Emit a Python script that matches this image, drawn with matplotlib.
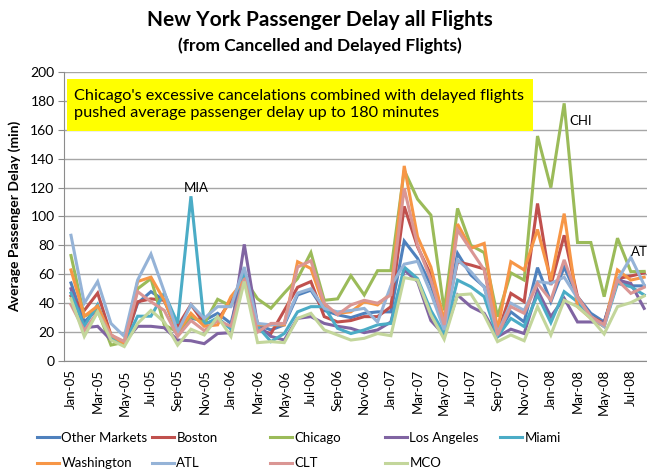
import matplotlib.pyplot as plt
import pandas as pd
from matplotlib.patches import Rectangle

plt.rcParams['font.family'] = ['Lato', 'DejaVu Sans']

# monthly categories Jan-05 .. Aug-08
months = list(pd.date_range('2005-01-01', periods=44, freq='MS').strftime('%b-%y'))

other_markets = [54, 27, 36, 17, 13, 40, 48, 42, 19, 29.5, 28, 33, 26, 62, 25, 21.5, 25, 45.7, 49, 35, 32, 30,
                 33, 34, 34, 83, 71, 52.6, 24, 74.5, 59.5, 51.4, 18.7, 34, 27, 64.6, 41, 65, 44.5, 33, 27, 57, 52, 52]
boston = [45, 35, 47, 18, 12, 41, 43, 42, 24, 39, 26, 28, 42, 58, 21.5, 19, 35, 51, 55, 30.7, 27, 28,
          30.7, 30.7, 37.6, 107, 79, 59.5, 26, 68.7, 66.4, 63.7, 19, 46.8, 41, 109, 52.6, 87, 44.5, 30.7, 26, 57, 58.8, 61]
chicago = [73, 31, 35, 11, 13, 50, 57, 25, 20, 31, 26, 42.7, 38, 57, 43, 36.5, 47, 57, 75, 42, 43, 59,
           45.7, 62.5, 62.5, 132, 112, 101, 35, 105.6, 80, 75, 30.7, 61, 56, 155.7, 120, 178.3, 82, 82, 44.5, 85, 61.8, 62]
los_angeles = [50, 23, 24, 14.5, 13, 24, 24, 23, 14.5, 14, 12, 19, 19.6, 80.7, 25, 17, 14.5, 29.5, 30.7, 26, 24, 22.6,
               19.6, 21.5, 27, 63, 55, 28, 18, 45.7, 37.6, 33, 16.8, 22, 19, 49, 30.7, 43.4, 27, 27, 26.5, 56, 53.7, 36.4]
miami = [47, 24, 39, 16, 12, 31, 31, 47, 26, 114, 25, 30, 22, 61, 24, 13.4, 19, 34, 37.6, 37.6, 22.6, 19,
         21.5, 25, 26, 65, 57, 35, 19, 56, 51.4, 44.5, 16.8, 29.5, 23.8, 45.7, 26.5, 48, 41, 29.5, 24, 53.7, 51.4, 45.7]
washington = [63, 31, 38, 18, 12, 55, 58, 42, 20, 33, 24, 25, 44.5, 56, 25, 25, 25, 68.7, 64, 37.6, 33, 34,
              41, 38.8, 47, 135, 86, 65, 28, 94.8, 78, 81.4, 21.5, 68.7, 63, 91, 56, 102, 37.6, 29.5, 23.8, 63, 56, 58]
atl = [87, 40, 55, 26, 17, 56, 74, 48, 20, 39, 29.5, 37.6, 37.6, 65, 26, 25, 26, 47, 50, 36.4, 34, 35,
       36.4, 27, 52, 67, 69, 47, 21.5, 70, 61.8, 51, 19, 40, 35, 55, 53.7, 58, 43.4, 31, 23.8, 56, 71.7, 52.6]
clt = [39, 21, 34, 18, 13.5, 48, 41, 35, 17, 28, 21, 28, 24, 57, 20, 26, 26, 65, 69.4, 40, 32, 38.8,
       42, 40, 45.7, 119.5, 80, 56, 25, 90.7, 76.8, 63, 18, 37.6, 33, 53.7, 42, 70, 44.5, 30.7, 25, 56, 46.8, 51]
mco = [43, 17, 34, 14.5, 10, 26, 35, 27, 11, 22, 18, 30.7, 17, 55, 12.7, 13.4, 12.7, 29.5, 33, 21.5, 18, 14.5,
       15.7, 19, 17.5, 57.7, 56, 32, 15, 45.7, 46.4, 31.8, 13.4, 18, 14, 37.6, 18, 42, 37.6, 29.5, 18.7, 37.6, 40.4, 45]

series = [
    ('Other Markets', other_markets, '#4F81BD'),
    ('Boston', boston, '#C0504D'),
    ('Chicago', chicago, '#9BBB59'),
    ('Los Angeles', los_angeles, '#8064A2'),
    ('Miami', miami, '#4BACC6'),
    ('Washington', washington, '#F79646'),
    ('ATL', atl, '#95B3D7'),
    ('CLT', clt, '#DA9694'),
    ('MCO', mco, '#C3D69B'),
]

fig = plt.figure(figsize=(6.47, 4.73), dpi=100)
# plot area runs a bit past the right edge (the original screenshot is cut there)
ax = fig.add_axes([0.0994, 0.2368, 0.9065, 0.611])

x = list(range(len(months)))
handles = []
for name, vals, col in series:
    h, = ax.plot(x, vals, color=col, lw=2.2, label=name, solid_joinstyle='miter')
    handles.append(h)

ax.set_xlim(-0.5, len(months) - 0.5)
ax.set_ylim(0, 200)
ax.set_yticks(range(0, 201, 20))
ax.set_xticks(x[::2])
ax.set_xticklabels(months[::2], rotation=90, fontsize=9.5)
ax.tick_params(axis='x', length=0, pad=6)
ax.tick_params(axis='y', labelsize=10, length=4, color='#8C8C8C', pad=3)
ax.grid(axis='y', color='#A6A6A6', lw=1)
ax.set_axisbelow(True)
for s in ['top', 'right']:
    ax.spines[s].set_visible(False)
for s in ['left', 'bottom']:
    ax.spines[s].set_color('#8C8C8C')

ax.set_ylabel('Average Passenger Delay (min)', fontsize=10, fontweight='bold', labelpad=7)

# yellow call-out box
ax.add_patch(Rectangle((-0.3, 159), 34.96, 36, facecolor='#FFFF00', edgecolor='none', zorder=3))
ax.text(0.2, 177.5, "Chicago's excessive cancelations combined with delayed flights\n"
        "pushed average passenger delay up to 180 minutes",
        fontsize=11.7, va='center', ha='left', zorder=4, linespacing=1.3)

ax.text(9.4, 120, 'MIA', fontsize=9.5, ha='center', va='center')
ax.text(37.4, 166, 'CHI', fontsize=9.5, ha='left', va='center')
# the ATL label is cut by the screenshot edge in the original, only "AT" shows
ax.text(42.0, 75.6, 'AT', fontsize=9.5, ha='left', va='center')

fig.text(0.495, 0.958, 'New York Passenger Delay all Flights', ha='center', va='center',
         fontsize=15, fontweight='bold')
fig.text(0.495, 0.903, '(from Cancelled and Delayed Flights)', ha='center', va='center',
         fontsize=12.5, fontweight='bold')

# legend laid out in fixed-width columns like Excel
col_x = [37, 152, 270, 385, 500]
for c, xpos in enumerate(col_x):
    hs = [handles[c]] + ([handles[c + 5]] if c + 5 < len(handles) else [])
    fig.legend(handles=hs, loc='upper left', bbox_to_anchor=(xpos / 647, 1 - 432 / 473),
               frameon=False, fontsize=9.5, handlelength=1.7, handletextpad=0.15,
               labelspacing=1.0, borderpad=0, borderaxespad=0)

plt.savefig('out.png', dpi=100)
plt.close(fig)
